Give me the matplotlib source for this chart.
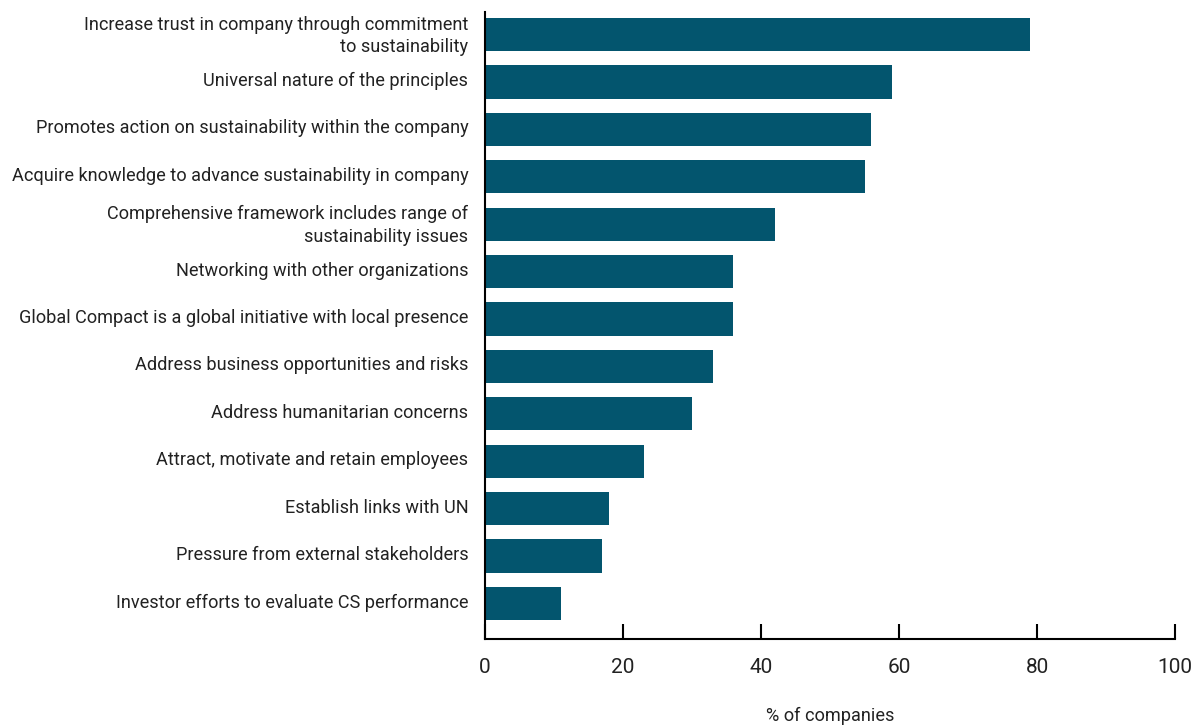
import matplotlib.pyplot as plt
import matplotlib.transforms as mtransforms
import numpy as np

plt.rcParams['font.family'] = ['Roboto', 'DejaVu Sans']

reasons = [
    'Increase trust in company through commitment\nto sustainability',
    'Universal nature of the principles',
    'Promotes action on sustainability within the company',
    'Acquire knowledge to advance sustainability in company',
    'Comprehensive framework includes range of\nsustainability issues',
    'Networking with other organizations',
    'Global Compact is a global initiative with local presence',
    'Address business opportunities and risks',
    'Address humanitarian concerns',
    'Attract, motivate and retain employees',
    'Establish links with UN',
    'Pressure from external stakeholders',
    'Investor efforts to evaluate CS performance',
]
pct = [79, 59, 56, 55, 42, 36, 36, 33, 30, 23, 18, 17, 11]
xticks = [0, 20, 40, 60, 80, 100]

fig = plt.figure(figsize=(11.93, 7.26), dpi=100)
ax = fig.add_axes([0.4065, 0.1198, 0.5785, 0.8637])

y = np.arange(len(reasons))
ax.barh(y, pct, height=0.7, color='#03556e')
ax.set_ylim(len(reasons) - 0.25, -0.475)
ax.set_xlim(0, 100)

ax.set_yticks(y)
ax.set_yticklabels(reasons, fontsize=13.1, color='#222222', linespacing=1.35)
ax.tick_params(axis='y', length=0, pad=12)
# labels sit a touch above the bar centres in the original
shift = mtransforms.ScaledTranslation(0, 0.03, fig.dpi_scale_trans)
for lab in ax.get_yticklabels():
    lab.set_transform(lab.get_transform() + shift)

ax.set_xticks(xticks)
ax.set_xticklabels([str(t) for t in xticks], fontsize=15, color='#222222')
ax.tick_params(axis='x', direction='in', length=11, width=1.5, pad=14)

for s in ['top', 'right']:
    ax.spines[s].set_visible(False)
ax.spines['left'].set_linewidth(1.5)
ax.spines['bottom'].set_linewidth(1.5)

ax.set_xlabel('% of companies', fontsize=13.1, color='#222222', labelpad=21)

fig.savefig('out.png', dpi=100)
